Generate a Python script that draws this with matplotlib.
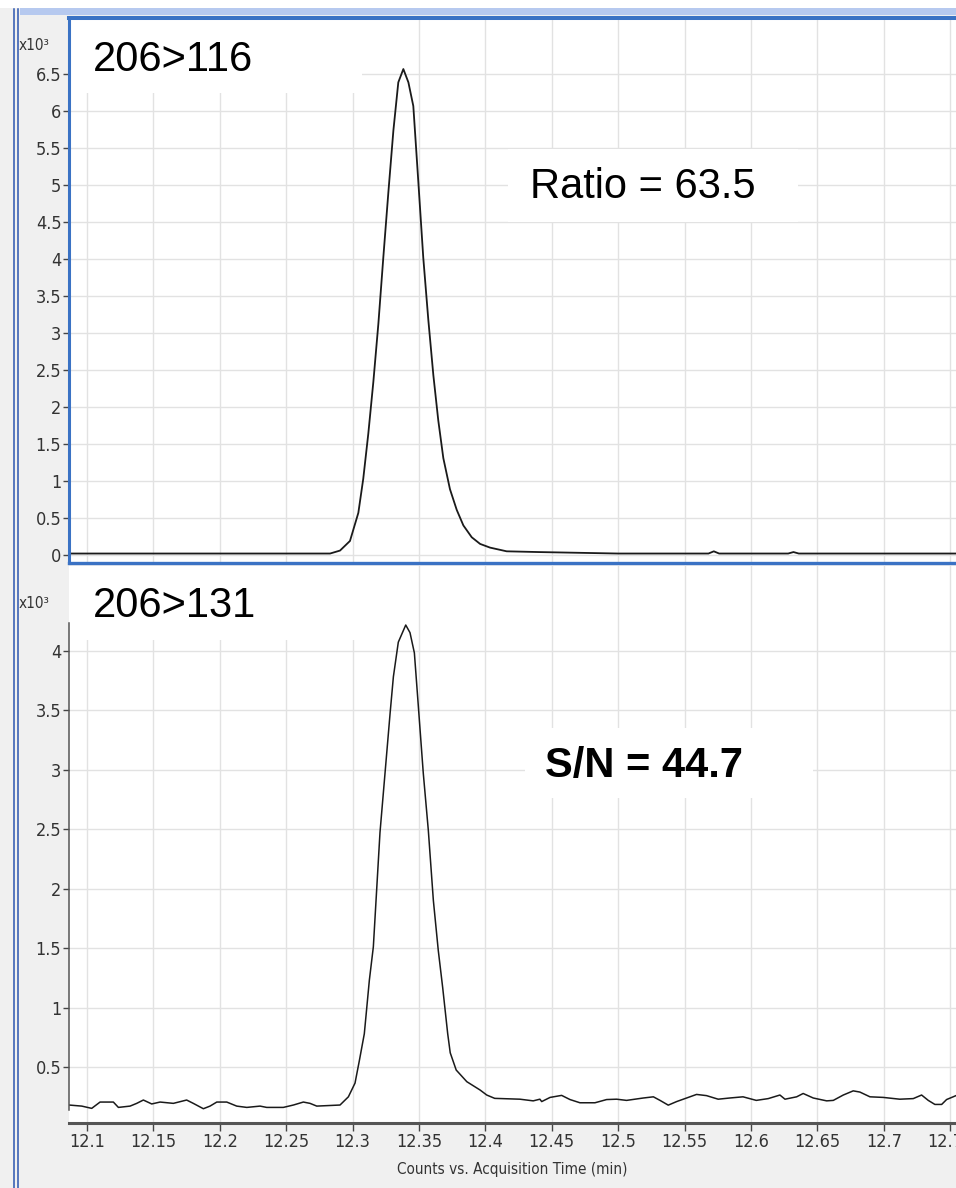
import matplotlib.pyplot as plt
from matplotlib.patches import Rectangle
from matplotlib.lines import Line2D

# 206>116 transition: retention time (min) vs counts (x10^3)
t_116 = [12.0864, 12.15, 12.2, 12.25, 12.283, 12.2905, 12.298, 12.3043, 12.308,
         12.3118, 12.3156, 12.3194, 12.3231, 12.3269, 12.3307, 12.3344, 12.3382,
         12.342, 12.3457, 12.3495, 12.3532, 12.357, 12.3608, 12.3645, 12.3683,
         12.3733, 12.3784, 12.3834, 12.3897, 12.396, 12.4035, 12.416, 12.44,
         12.47, 12.5, 12.55, 12.568, 12.572, 12.576, 12.6, 12.628, 12.632,
         12.636, 12.7, 12.7544]
c_116 = [0.02, 0.02, 0.02, 0.02, 0.02, 0.06, 0.19, 0.57, 1.03,
         1.64, 2.34, 3.13, 4.02, 4.90, 5.74, 6.39, 6.57,
         6.39, 6.07, 5.04, 4.02, 3.18, 2.43, 1.82, 1.31,
         0.89, 0.61, 0.40, 0.24, 0.15, 0.10, 0.05, 0.04,
         0.03, 0.02, 0.02, 0.02, 0.05, 0.02, 0.02, 0.02, 0.04,
         0.02, 0.02, 0.02]

# 206>131 transition
t_131 = [12.0864, 12.096, 12.1035, 12.1098, 12.1198, 12.1236, 12.1324, 12.1374,
         12.1424, 12.1487, 12.155, 12.165, 12.175, 12.18, 12.1876, 12.1926,
         12.1977, 12.2052, 12.2127, 12.2203, 12.2303, 12.2353, 12.2478, 12.2554,
         12.2629, 12.2679, 12.273, 12.2905, 12.2968, 12.3018, 12.305, 12.3088,
         12.3126, 12.3156, 12.3181, 12.3206, 12.3244, 12.3282, 12.3307, 12.3344,
         12.340, 12.3432, 12.3465, 12.3495, 12.3532, 12.357, 12.3608, 12.3645,
         12.3678, 12.3716, 12.3735, 12.378, 12.386, 12.396, 12.401, 12.407,
         12.426, 12.436, 12.441, 12.4424, 12.4487, 12.4574, 12.4637, 12.4712,
         12.4825, 12.4913, 12.4988, 12.5063, 12.5189, 12.5265, 12.5315, 12.5377,
         12.544, 12.554, 12.559, 12.5665, 12.5753, 12.584, 12.594, 12.604,
         12.613, 12.6218, 12.6256, 12.6344, 12.6393, 12.6469, 12.657, 12.662,
         12.6695, 12.677, 12.682, 12.6896, 12.6996, 12.712, 12.7222, 12.7285,
         12.7335, 12.7385, 12.7436, 12.7473, 12.7544]
c_131 = [0.181, 0.172, 0.153, 0.206, 0.206, 0.161, 0.172, 0.195,
         0.223, 0.190, 0.206, 0.195, 0.223, 0.195, 0.150, 0.172,
         0.206, 0.206, 0.172, 0.161, 0.172, 0.161, 0.161, 0.181,
         0.206, 0.195, 0.172, 0.181, 0.250, 0.365, 0.550, 0.780,
         1.23, 1.51, 1.99, 2.47, 2.97, 3.47, 3.78, 4.07,
         4.214, 4.15, 3.98, 3.53, 2.97, 2.49, 1.90, 1.48,
         1.17, 0.78, 0.62, 0.475, 0.377, 0.307, 0.265, 0.237,
         0.230, 0.216, 0.230, 0.210, 0.245, 0.262, 0.227, 0.200,
         0.200, 0.227, 0.230, 0.220, 0.240, 0.250, 0.220, 0.180,
         0.210, 0.250, 0.270, 0.260, 0.230, 0.240, 0.250, 0.220,
         0.235, 0.265, 0.230, 0.250, 0.278, 0.240, 0.216, 0.220,
         0.265, 0.300, 0.290, 0.250, 0.245, 0.230, 0.235, 0.265,
         0.220, 0.186, 0.186, 0.227, 0.260]

x_ticks = [12.1, 12.15, 12.2, 12.25, 12.3, 12.35, 12.4, 12.45, 12.5,
           12.55, 12.6, 12.65, 12.7, 12.75]
y_ticks_116 = [0, 0.5, 1, 1.5, 2, 2.5, 3, 3.5, 4, 4.5, 5, 5.5, 6, 6.5]
y_ticks_131 = [0.5, 1, 1.5, 2, 2.5, 3, 3.5, 4]

label_116 = '206>116'
label_131 = '206>131'
ratio_text = 'Ratio = 63.5'
sn_text = 'S/N = 44.7'

W, H = 956, 1188
BLUE = '#3a72c4'
narrow = dict(fontfamily=['Liberation Sans Narrow', 'DejaVu Sans'],
              fontstretch='condensed', fontsize=13, color='#333333')
big = dict(fontfamily=['Liberation Sans', 'DejaVu Sans'], fontsize=30, color='black')


def px_box(x0, y0, x1, y1):
    return [x0 / W, 1 - y1 / H, (x1 - x0) / W, (y1 - y0) / H]


fig = plt.figure(figsize=(W / 100, H / 100), dpi=100, facecolor='#f0f0f0')

# window chrome: white strip, light blue band, double blue border on the left
fig.patches.append(Rectangle((0, 1 - 8 / H), 1, 8 / H, transform=fig.transFigure,
                             facecolor='white', edgecolor='none', zorder=0))
fig.patches.append(Rectangle((20 / W, 1 - 15 / H), 1, 7 / H, transform=fig.transFigure,
                             facecolor='#b6c9ef', edgecolor='none', zorder=0))
for xp in (14, 17.5):
    fig.lines.append(Line2D([xp / W, xp / W], [0, 1 - 9 / H], transform=fig.transFigure,
                            color='#2c55b0', lw=1.1))

ax1 = fig.add_axes(px_box(69, 18, 956, 563))
ax2 = fig.add_axes(px_box(69, 566, 956, 1123))

for ax in (ax1, ax2):
    ax.set_facecolor('white')
    ax.set_xlim(12.0864, 12.7544)
    ax.set_xticks(x_ticks)
    ax.grid(True, color='#e2e2e2', lw=1.0)
    ax.set_axisbelow(True)
    ax.spines['right'].set_visible(False)

# upper trace
ax1.plot(t_116, c_116, color='#1a1a1a', lw=1.3, zorder=2)
ax1.set_ylim(-0.108, 7.26)
ax1.set_yticks(y_ticks_116, [f'{v:g}' for v in y_ticks_116], **narrow)
ax1.tick_params(axis='x', length=0, labelbottom=False)
ax1.tick_params(axis='y', direction='out', length=4.5, width=1, color='#444444', pad=1)
for side, lw in (('left', 2.2), ('bottom', 2.4), ('top', 2.9)):
    ax1.spines[side].set_color(BLUE)
    ax1.spines[side].set_linewidth(lw)

ax1.add_patch(Rectangle((0, 0.862), 0.330, 0.138, transform=ax1.transAxes,
                        facecolor='white', edgecolor='none', zorder=1.5))
ax1.add_patch(Rectangle((0.495, 0.625), 0.327, 0.134, transform=ax1.transAxes,
                        facecolor='white', edgecolor='none', zorder=1.5))
ax1.text(0.027, 0.923, label_116, transform=ax1.transAxes, va='center', ha='left',
         zorder=3, **big)
ax1.text(0.520, 0.689, ratio_text, transform=ax1.transAxes, va='center', ha='left',
         zorder=3, **big)

# lower trace
ax2.plot(t_131, c_131, color='#1a1a1a', lw=1.1, zorder=2)
ax2.set_ylim(0.03, 4.71)
ax2.set_yticks(y_ticks_131, [f'{v:g}' for v in y_ticks_131], **narrow)
ax2.set_xticks(x_ticks, [f'{v:g}' for v in x_ticks], **narrow)
ax2.tick_params(axis='y', direction='out', length=4.5, width=1, color='#444444', pad=1)
ax2.tick_params(axis='x', direction='out', length=6, width=1, color='#444444', pad=1)
ax2.spines['top'].set_visible(False)
ax2.spines['left'].set_color('#555555')
ax2.spines['left'].set_linewidth(1.1)
ax2.spines['left'].set_bounds(0.14, 4.23)
ax2.spines['bottom'].set_color('#555555')
ax2.spines['bottom'].set_linewidth(2.2)
ax2.set_xlabel('Counts vs. Acquisition Time (min)', labelpad=8,
               **dict(narrow, fontsize=11))

ax2.add_patch(Rectangle((0, 0.867), 0.330, 0.133, transform=ax2.transAxes,
                        facecolor='white', edgecolor='none', zorder=1.5))
ax2.add_patch(Rectangle((0.514, 0.583), 0.325, 0.126, transform=ax2.transAxes,
                        facecolor='white', edgecolor='none', zorder=1.5))
ax2.text(0.027, 0.928, label_131, transform=ax2.transAxes, va='center', ha='left',
         zorder=3, **big)
ax2.text(0.537, 0.641, sn_text, transform=ax2.transAxes, va='center', ha='left',
         fontweight='bold', zorder=3, **big)

# scale factor labels
fig.text(34 / W, 1 - 46 / H, 'x10³', ha='center', va='center', **dict(narrow, fontsize=11))
fig.text(34 / W, 1 - 604 / H, 'x10³', ha='center', va='center', **dict(narrow, fontsize=11))

fig.savefig('out.png', dpi=100, facecolor=fig.get_facecolor())
